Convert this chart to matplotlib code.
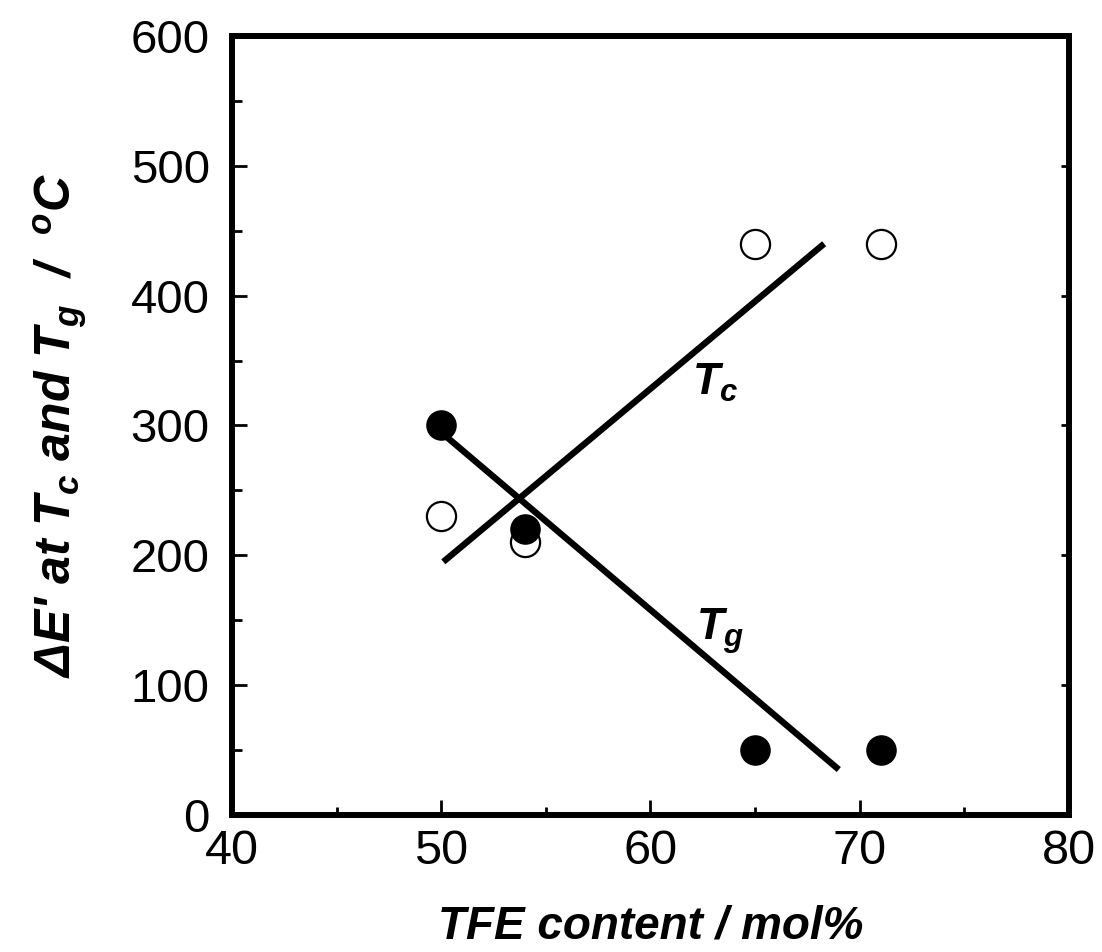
import matplotlib
matplotlib.use("Agg")
import matplotlib.pyplot as plt
from matplotlib.ticker import MultipleLocator

plt.rcParams['font.family'] = ['Liberation Sans', 'DejaVu Sans']
plt.rcParams['mathtext.fontset'] = 'custom'
plt.rcParams['mathtext.it'] = 'Liberation Sans:bold:italic'
plt.rcParams['mathtext.rm'] = 'Liberation Sans:bold:italic'
plt.rcParams['mathtext.bf'] = 'Liberation Sans:bold:italic'

# data
tfe = [50, 54, 65, 71]
tc_vals = [230, 210, 440, 440]   # open circles
tg_vals = [300, 220, 50, 50]     # filled circles

# fitted lines (end points)
tc_line_x = [50.1, 68.3]
tc_line_y = [195, 440]
tg_line_x = [50.2, 69.0]
tg_line_y = [292, 35]

fig = plt.figure(figsize=(11.02, 9.52), dpi=100)
ax = fig.add_axes([0.2105, 0.1439, 0.7595, 0.8183])

ax.plot(tfe, tc_vals, 'o', ms=21, mfc='none', mec='black', mew=1.6, zorder=3)
ax.plot(tfe, tg_vals, 'o', ms=21, mfc='black', mec='black', zorder=4)
ax.plot(tc_line_x, tc_line_y, color='black', lw=4.6, solid_capstyle='butt', zorder=2)
ax.plot(tg_line_x, tg_line_y, color='black', lw=4.6, solid_capstyle='butt', zorder=2)

ax.text(62.0, 333, r"$T_c$", fontsize=32, va='center', ha='left')
ax.text(62.2, 142, r"$T_g$", fontsize=32, va='center', ha='left')

ax.set_xlim(40, 80)
ax.set_ylim(0, 600)
ax.xaxis.set_major_locator(MultipleLocator(10))
ax.xaxis.set_minor_locator(MultipleLocator(5))
ax.yaxis.set_major_locator(MultipleLocator(100))
ax.yaxis.set_minor_locator(MultipleLocator(50))

for s in ax.spines.values():
    s.set_linewidth(4.3)

ax.tick_params(axis='x', which='major', direction='in', length=11, width=2, pad=10, labelsize=35)
ax.tick_params(axis='x', which='minor', direction='in', length=5.5, width=2)
ax.tick_params(axis='y', which='major', direction='in', length=11, width=2, pad=16, labelsize=34)
ax.tick_params(axis='y', which='minor', direction='in', length=7, width=2)

# right side ticks, shorter
ax2 = ax.twinx()
ax2.set_ylim(0, 600)
ax2.yaxis.set_major_locator(MultipleLocator(100))
ax2.yaxis.set_minor_locator(MultipleLocator(50))
ax2.tick_params(axis='y', which='major', direction='in', length=6, width=2, labelright=False)
ax2.tick_params(axis='y', which='minor', direction='in', length=2, width=1)
for s in ax2.spines.values():
    s.set_visible(False)

ax.set_xlabel("TFE content / mol%", fontsize=33, fontweight='bold', style='italic', labelpad=22)
ax.set_ylabel("\u0394E' at $T_c$ and $T_g$  /  $^o$C", fontsize=36,
              fontweight='bold', style='italic', labelpad=30)

fig.savefig("out.png", dpi=100)
